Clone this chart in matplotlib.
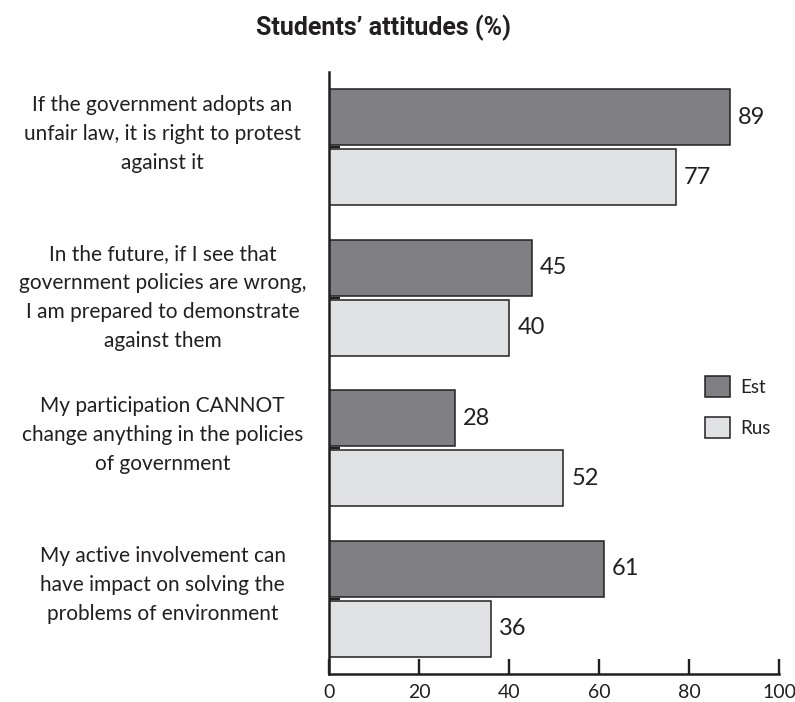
import matplotlib.pyplot as plt
import matplotlib.transforms as mtransforms
import numpy as np

# survey statements and the share of students agreeing (%)
statements = [
    "If the government adopts an\nunfair law, it is right to protest\nagainst it",
    "In the future, if I see that\ngovernment policies are wrong,\nI am prepared to demonstrate\nagainst them",
    "My participation CANNOT\nchange anything in the policies\nof government",
    "My active involvement can\nhave impact on solving the\nproblems of environment",
]
est = [89, 45, 28, 61]
rus = [77, 40, 52, 36]
xticks = [0, 20, 40, 60, 80, 100]

plt.rcParams['font.family'] = ['Lato', 'DejaVu Sans']
ink = '#231f20'

fig = plt.figure(figsize=(7.95, 7.02), dpi=100)
ax = fig.add_axes([329 / 795, 28 / 702, 450 / 795, 602 / 702])

pos = np.arange(len(statements))
h = 0.372
off = 0.2
b1 = ax.barh(pos - off, est, height=h, color='#808084', edgecolor=ink,
             linewidth=1.1, label='Est')
b2 = ax.barh(pos + off, rus, height=h, color='#e1e2e4', edgecolor=ink,
             linewidth=1.1, label='Rus')
ax.bar_label(b1, padding=6, fontsize=17, color=ink)
ax.bar_label(b2, padding=6, fontsize=17, color=ink)

ax.set_xlim(0, 100)
ax.set_ylim(3.5, -0.5)
ax.set_xticks(xticks)
ax.set_yticks(pos)
ax.set_yticklabels([])
ax.tick_params(axis='x', direction='in', length=11, width=1.7, color=ink,
               labelsize=14, labelcolor=ink, pad=7)
ax.tick_params(axis='y', direction='in', length=8, width=1.7, color=ink)

for side in ('top', 'right'):
    ax.spines[side].set_visible(False)
for side in ('left', 'bottom'):
    ax.spines[side].set_linewidth(1.8)
    ax.spines[side].set_color(ink)

# statements to the left of the axis, centred on each pair of bars
trans = mtransforms.blended_transform_factory(ax.transAxes, ax.transData)
for i, s in enumerate(statements):
    nlines = s.count("\n") + 1
    y = i - 0.09 if nlines == 3 else i
    ax.text(-0.37, y, s, transform=trans, ha='center', va='center',
            multialignment='center', fontsize=15, linespacing=1.55,
            color=ink)

ax.legend(loc='upper left', bbox_to_anchor=(0.836, 0.495), frameon=False,
          fontsize=13.5, handlelength=1.3, handleheight=1.35,
          labelspacing=1.05, handletextpad=0.55, borderpad=0,
          borderaxespad=0, labelcolor=ink)

fig.text(384 / 795, 1 - 28 / 702, "Students’ attitudes (%)", ha='center',
         va='center', fontsize=18, fontweight='bold', family='Roboto',
         color=ink)

fig.savefig('out.png', dpi=100)
